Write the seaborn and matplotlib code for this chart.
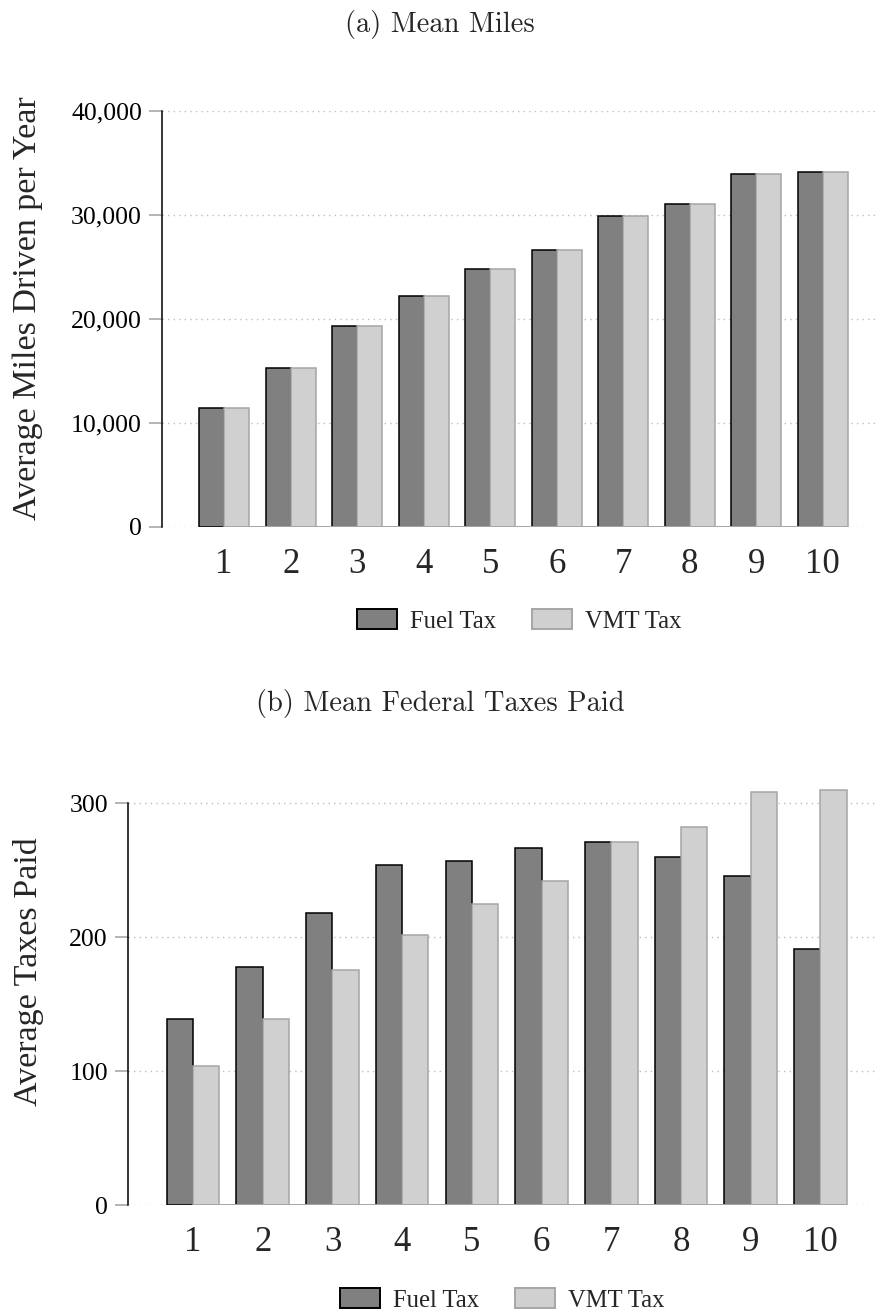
import matplotlib
matplotlib.use("Agg")
import matplotlib.pyplot as plt
import matplotlib.transforms as mtransforms
from matplotlib.ticker import StrMethodFormatter
import pandas as pd
import seaborn as sns

# Income deciles
deciles = ["1", "2", "3", "4", "5", "6", "7", "8", "9", "10"]
series_names = ["Fuel Tax", "VMT Tax"]

# (a) mean miles driven per year
miles_fuel = [11450, 15260, 19300, 22180, 24740, 26600, 29840, 31060, 33940, 34130]
miles_vmt = [11450, 15260, 19300, 22180, 24740, 26600, 29840, 31060, 33940, 34130]

# (b) mean federal taxes paid
taxes_fuel = [138.8, 177.6, 218.5, 253.6, 257.0, 266.5, 271.2, 260.0, 246.0, 191.5]
taxes_vmt = [103.9, 139.1, 175.5, 202.0, 224.8, 242.0, 271.2, 282.3, 308.2, 309.9]

miles_ticks = [0, 10000, 20000, 30000, 40000]
taxes_ticks = [0, 100, 200, 300]

FILL = {"Fuel Tax": "#808080", "VMT Tax": "#d0d0d0"}
EDGE = {"Fuel Tax": "#000000", "VMT Tax": "#a6a6a6"}
TICK_GREY = "#a0a0a0"
GRID_GREY = "#bdbdbd"

sns.set_style("white")
plt.rcParams["font.family"] = ["Liberation Serif", "DejaVu Serif"]

W, H = 880, 1315
fig = plt.figure(figsize=(W / 100, H / 100), dpi=100)


def long_frame(fuel, vmt):
    return pd.DataFrame({
        "decile": deciles * 2,
        "value": list(fuel) + list(vmt),
        "scheme": [series_names[0]] * len(deciles) + [series_names[1]] * len(deciles),
    })


def panel(ax, df, ticks, ylim, ylabel, label_xy, legend_y, fmt):
    sns.barplot(data=df, x="decile", y="value", hue="scheme",
                order=deciles, hue_order=series_names,
                palette=[FILL[n] for n in series_names],
                width=0.755, gap=0, saturation=1, linewidth=1.1,
                errorbar=None, ax=ax, zorder=3)
    for name, cont in zip(series_names, ax.containers):
        for p in cont.patches:
            p.set_edgecolor(EDGE[name])
            p.set_linewidth(1.1)

    # baseline under the bars
    patches = [p for c in ax.containers for p in c.patches]
    first_fuel = ax.containers[0].patches[0]
    x0 = first_fuel.get_x() + first_fuel.get_width()
    x1 = max(p.get_x() + p.get_width() for p in patches)
    ax.plot([x0, x1], [0, 0], color=EDGE["VMT Tax"], lw=1.4, zorder=4,
            solid_capstyle="butt")

    ax.set_xlim(-0.93, 9.8)
    ax.set_ylim(*ylim)
    ax.set_yticks(ticks)
    ax.yaxis.set_major_formatter(fmt)
    ax.grid(axis="y", color=GRID_GREY, linestyle=(0, (1, 3)), lw=1.0, zorder=0)
    ax.grid(axis="x", visible=False)
    for s in ("top", "right", "bottom"):
        ax.spines[s].set_visible(False)
    ax.spines["left"].set_color("black")
    ax.spines["left"].set_linewidth(1.1)
    ax.spines["left"].set_bounds(ticks[0], ticks[-1])

    ax.tick_params(axis="y", left=True, length=9.4, width=1.1, color=TICK_GREY,
                   pad=5.3, labelsize=18.5, labelcolor="black")
    ax.tick_params(axis="x", bottom=False, length=0, pad=15, labelsize=25)

    ax.set_xlabel("")
    ax.set_ylabel(ylabel, fontsize=24.5)
    ax.yaxis.label.set_va("center")
    ax.yaxis.set_label_coords(*label_xy)

    handles, labels = ax.get_legend_handles_labels()
    ax.get_legend().remove()
    leg = ax.legend(handles, labels, loc="center", ncol=2, frameon=False,
                    bbox_to_anchor=(0.5, legend_y),
                    bbox_transform=mtransforms.blended_transform_factory(ax.transAxes, fig.transFigure),
                    fontsize=17.7, handlelength=1.63, handleheight=0.88,
                    handletextpad=0.53, columnspacing=1.45, borderpad=0)
    for h, name in zip(leg.legend_handles, labels):
        h.set_facecolor(FILL[name])
        h.set_edgecolor(EDGE[name])
        h.set_linewidth(1.4)


comma = StrMethodFormatter("{x:,.0f}")

ax1 = fig.add_axes([162.3 / W, 1 - 526.7 / H, (876 - 162.3) / W, 416 / H])
panel(ax1, long_frame(miles_fuel, miles_vmt), miles_ticks, (0, 40000),
      "Average Miles Driven per Year", (-0.188, 0.526), 1 - 621 / H, comma)

ax2 = fig.add_axes([128.3 / W, 1 - 1205.3 / H, (876 - 128.3) / W, 422.1 / H])
panel(ax2, long_frame(taxes_fuel, taxes_vmt), taxes_ticks, (0, 315),
      "Average Taxes Paid", (-0.134, 0.553), 1 - 1300 / H, StrMethodFormatter("{x:.0f}"))

fig.text(0.5, 1 - 32 / H, "(a) Mean Miles", family="cmr10", fontsize=20.5,
         ha="center", va="baseline")
fig.text(0.5, 1 - 711 / H, "(b) Mean Federal Taxes Paid", family="cmr10", fontsize=20.5,
         ha="center", va="baseline")

fig.savefig("out.png", dpi=100, facecolor="white")
